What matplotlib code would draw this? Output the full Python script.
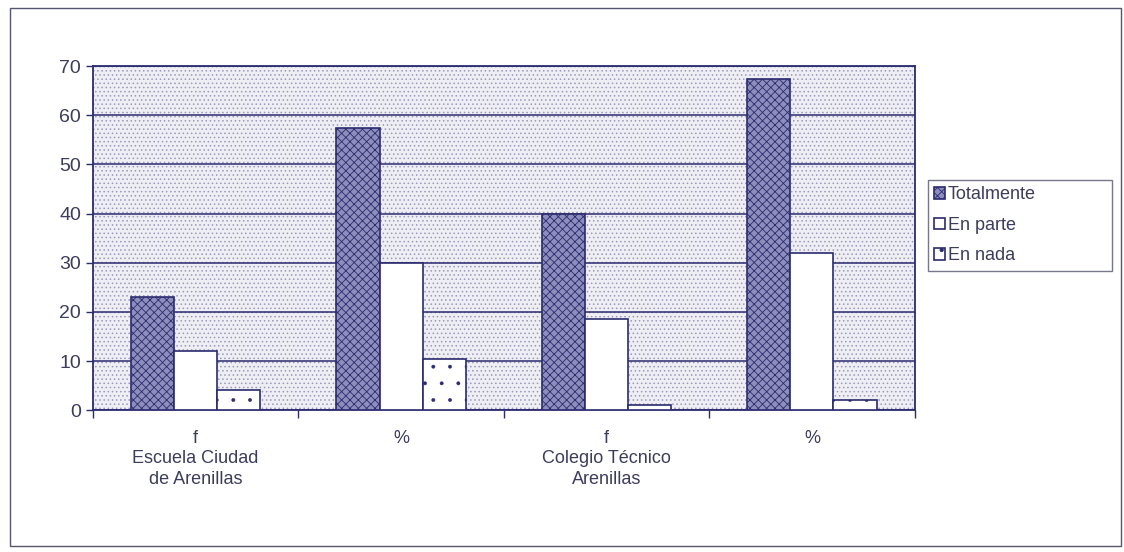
import numpy as np
import matplotlib.pyplot as plt
from matplotlib.patches import Rectangle

plt.rcParams['font.family'] = ['Liberation Sans', 'DejaVu Sans']
plt.rcParams['hatch.linewidth'] = 0.6

# data
categories = ['f\nEscuela Ciudad\nde Arenillas', '%', 'f\nColegio Técnico\nArenillas', '%']
series = ['Totalmente', 'En parte', 'En nada']
totalmente = [23, 57.5, 40, 67.5]
en_parte = [12, 30, 18.5, 32]
en_nada = [4, 10.5, 1, 2]
yticks = [0, 10, 20, 30, 40, 50, 60, 70]

ink = '#2b2b70'
txt = '#3c3c5c'

fig = plt.figure(figsize=(11.24, 5.52), dpi=100)
fig.patch.set_facecolor('white')
# outer frame of the chart
fig.add_artist(Rectangle((0.009, 0.01), 0.988, 0.975, transform=fig.transFigure,
                         fill=False, edgecolor='#555570', lw=1.0))

ax = fig.add_axes([0.0827, 0.257, 0.731, 0.623])
ax.set_xlim(0, 4)
ax.set_ylim(0, 70)

# dotted plot background
ax.set_facecolor('#eeeef4')
ax.add_patch(Rectangle((0, 0), 4, 70, facecolor='none', edgecolor='#9a9ab8',
                       hatch='....', lw=0, zorder=0))

ax.set_axisbelow(True)
ax.yaxis.grid(True, color=ink, lw=1.1)
for s in ax.spines.values():
    s.set_color(ink)
    s.set_linewidth(1.3)

x = np.arange(len(categories)) + 0.5
w = 0.21
ax.bar(x - w, totalmente, w, facecolor='#8e8ebc', edgecolor=ink, hatch='xxxx',
       lw=1.2, label=series[0], zorder=3)
ax.bar(x, en_parte, w, facecolor='white', edgecolor=ink, lw=1.2,
       label=series[1], zorder=3)
with plt.rc_context({'hatch.linewidth': 0.3}):
    ax.bar(x + w, en_nada, w, facecolor='white', edgecolor=ink, hatch='.',
           lw=1.2, label=series[2], zorder=3)

ax.set_yticks(yticks)
ax.tick_params(axis='y', colors=ink, labelcolor=txt, labelsize=14, length=5, width=1)
ax.set_xticks(x)
ax.set_xticklabels(categories, va='top', linespacing=1.3)
ax.tick_params(axis='x', which='major', length=0, labelcolor=txt, labelsize=13, pad=14)
ax.set_xticks(np.arange(0, 5), minor=True)
ax.tick_params(axis='x', which='minor', length=6, color=ink, width=1)

leg = ax.legend(loc='upper left', bbox_to_anchor=(1.016, 0.398, 0.224, 0.271),
                mode='expand', frameon=True, fancybox=False, fontsize=13,
                handlelength=0.6, handleheight=0.6, handletextpad=0.15,
                labelspacing=0.75, borderpad=0.35, borderaxespad=0)
leg.get_frame().set_edgecolor('#555570')
leg.get_frame().set_linewidth(1.0)
for t in leg.get_texts():
    t.set_color(txt)

fig.savefig('out.png', dpi=100)
